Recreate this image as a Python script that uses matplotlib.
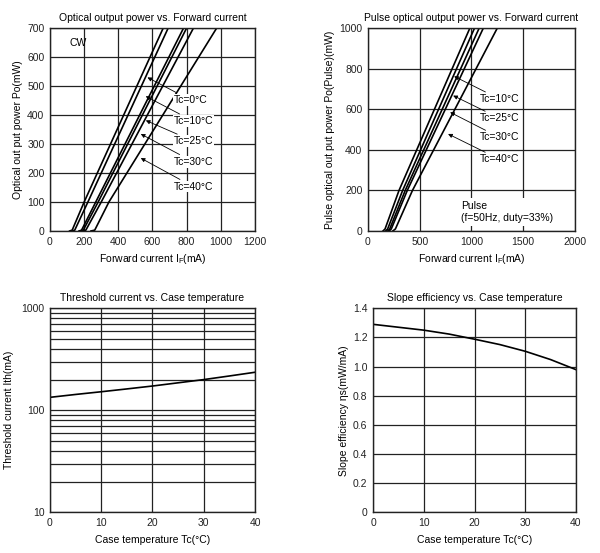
import matplotlib.pyplot as plt
import numpy as np

plt.rcParams['font.family'] = ['Liberation Sans', 'DejaVu Sans']
plt.rcParams['font.size'] = 7.5

# CW: optical output power vs forward current
cw_power = [0, 3, 100, 700]
cw_current = [
    [115, 130, 200, 663],
    [130, 145, 222, 692],
    [170, 185, 268, 782],
    [180, 195, 282, 800],
    [195, 210, 300, 840],
    [240, 262, 345, 976],
]
cw_labels = ['Tc=0°C', 'Tc=10°C', 'Tc=25°C', 'Tc=30°C', 'Tc=40°C']
cw_tip_x = [556, 546, 546, 517, 517]
cw_tip_y = [534, 469, 385, 339, 256]
cw_text_x = 722
cw_text_y = [452, 379, 310, 239, 153]

# Pulse: optical output power vs forward current
pulse_power = [0, 10, 200, 1000]
pulse_current = [
    [145, 165, 300, 985],
    [170, 190, 335, 1030],
    [190, 210, 360, 1075],
    [205, 225, 380, 1115],
    [240, 265, 430, 1250],
]
pulse_labels = ['Tc=10°C', 'Tc=25°C', 'Tc=30°C', 'Tc=40°C']
pulse_tip_x = [808, 799, 770, 750]
pulse_tip_y = [768, 673, 591, 484]
pulse_text_x = 1080
pulse_text_y = [650, 555, 461, 353]

# Threshold current and slope efficiency vs case temperature
tc = [0, 5, 10, 15, 20, 25, 30, 35, 40]
ith = [134, 143, 152, 162, 173, 186, 200, 217, 236]
eta = [1.29, 1.27, 1.25, 1.223, 1.188, 1.151, 1.105, 1.048, 0.979]

fig = plt.figure(figsize=(6, 5.53), dpi=100)
ax1 = fig.add_axes([0.0833, 0.5823, 0.3417, 0.3671])
ax2 = fig.add_axes([0.6133, 0.5823, 0.345, 0.3671])
ax3 = fig.add_axes([0.0833, 0.0736, 0.3417, 0.3689])
ax4 = fig.add_axes([0.6217, 0.0736, 0.3383, 0.3689])

grid_kw = dict(color='#222222', lw=0.9)
arrow_kw = dict(arrowstyle='-|>', lw=0.6, color='black', mutation_scale=6)
box_kw = dict(facecolor='white', edgecolor='none', pad=0.6)

for ax in [ax1, ax2, ax3, ax4]:
    ax.tick_params(length=0, pad=4, labelsize=7.5, colors='#222222')
    for s in ax.spines.values():
        s.set_linewidth(1.0)
        s.set_color('#222222')
    ax.set_axisbelow(True)

# --- top left
for cur in cw_current:
    ax1.plot(cur, cw_power, color='black', lw=1.2)
ax1.set_xlim(0, 1200)
ax1.set_ylim(0, 700)
ax1.set_xticks(np.arange(0, 1201, 200))
ax1.set_yticks(np.arange(0, 701, 100))
ax1.grid(True, **grid_kw)
ax1.text(117, 648, 'CW', fontsize=7.5, va='center')
for lab, tx, ty, yy in zip(cw_labels, cw_tip_x, cw_tip_y, cw_text_y):
    ax1.annotate(lab, xy=(tx, ty), xytext=(cw_text_x, yy), va='center',
                 ha='left', fontsize=7.5, arrowprops=arrow_kw, bbox=box_kw)
ax1.set_title('Optical output power vs. Forward current', fontsize=7.5, pad=5)
ax1.set_xlabel('Forward current I$_\\mathregular{F}$(mA)', fontsize=7.5, labelpad=4)
ax1.set_ylabel('Optical out put power Po(mW)', fontsize=7.5, labelpad=3)

# --- top right
for cur in pulse_current:
    ax2.plot(cur, pulse_power, color='black', lw=1.2)
ax2.set_xlim(0, 2000)
ax2.set_ylim(0, 1000)
ax2.set_xticks(np.arange(0, 2001, 500))
ax2.set_yticks(np.arange(0, 1001, 200))
ax2.grid(True, **grid_kw)
for lab, tx, ty, yy in zip(pulse_labels, pulse_tip_x, pulse_tip_y, pulse_text_y):
    ax2.annotate(lab, xy=(tx, ty), xytext=(pulse_text_x, yy), va='center',
                 ha='left', fontsize=7.5, arrowprops=arrow_kw, bbox=box_kw)
ax2.text(900, 95, 'Pulse\n(f=50Hz, duty=33%)', fontsize=7.5, va='center',
         ha='left', linespacing=1.3,
         bbox=dict(facecolor='white', edgecolor='none', pad=2))
ax2.set_title('Pulse optical output power vs. Forward current', fontsize=7.5, pad=5)
ax2.set_xlabel('Forward current I$_\\mathregular{F}$(mA)', fontsize=7.5, labelpad=4)
ax2.set_ylabel('Pulse optical out put power Po(Pulse)(mW)', fontsize=7.5, labelpad=3)

# --- bottom left
ax3.plot(tc, ith, color='black', lw=1.2)
ax3.set_yscale('log')
ax3.set_xlim(0, 40)
ax3.set_ylim(10, 1000)
ax3.set_xticks([0, 10, 20, 30, 40])
ax3.set_yticks([10, 100, 1000])
ax3.set_yticklabels(['10', '100', '1000'])
ax3.tick_params(which='minor', length=0, labelleft=False)
ax3.grid(True, which='both', **grid_kw)
ax3.set_title('Threshold current vs. Case temperature', fontsize=7.5, pad=5)
ax3.set_xlabel('Case temperature Tc(°C)', fontsize=7.5, labelpad=5)
ax3.set_ylabel('Threshold current Ith(mA)', fontsize=7.5, labelpad=5)

# --- bottom right
ax4.plot(tc, eta, color='black', lw=1.2)
ax4.set_xlim(0, 40)
ax4.set_ylim(0, 1.4)
ax4.set_xticks([0, 10, 20, 30, 40])
ax4.set_yticks(np.arange(0, 1.41, 0.2))
ax4.set_yticklabels(['0', '0.2', '0.4', '0.6', '0.8', '1.0', '1.2', '1.4'])
ax4.grid(True, **grid_kw)
ax4.set_title('Slope efficiency vs. Case temperature', fontsize=7.5, pad=5)
ax4.set_xlabel('Case temperature Tc(°C)', fontsize=7.5, labelpad=5)
ax4.set_ylabel('Slope efficiency ηs(mW/mA)', fontsize=7.5, labelpad=3)

fig.savefig('out.png', dpi=100, facecolor='white')
